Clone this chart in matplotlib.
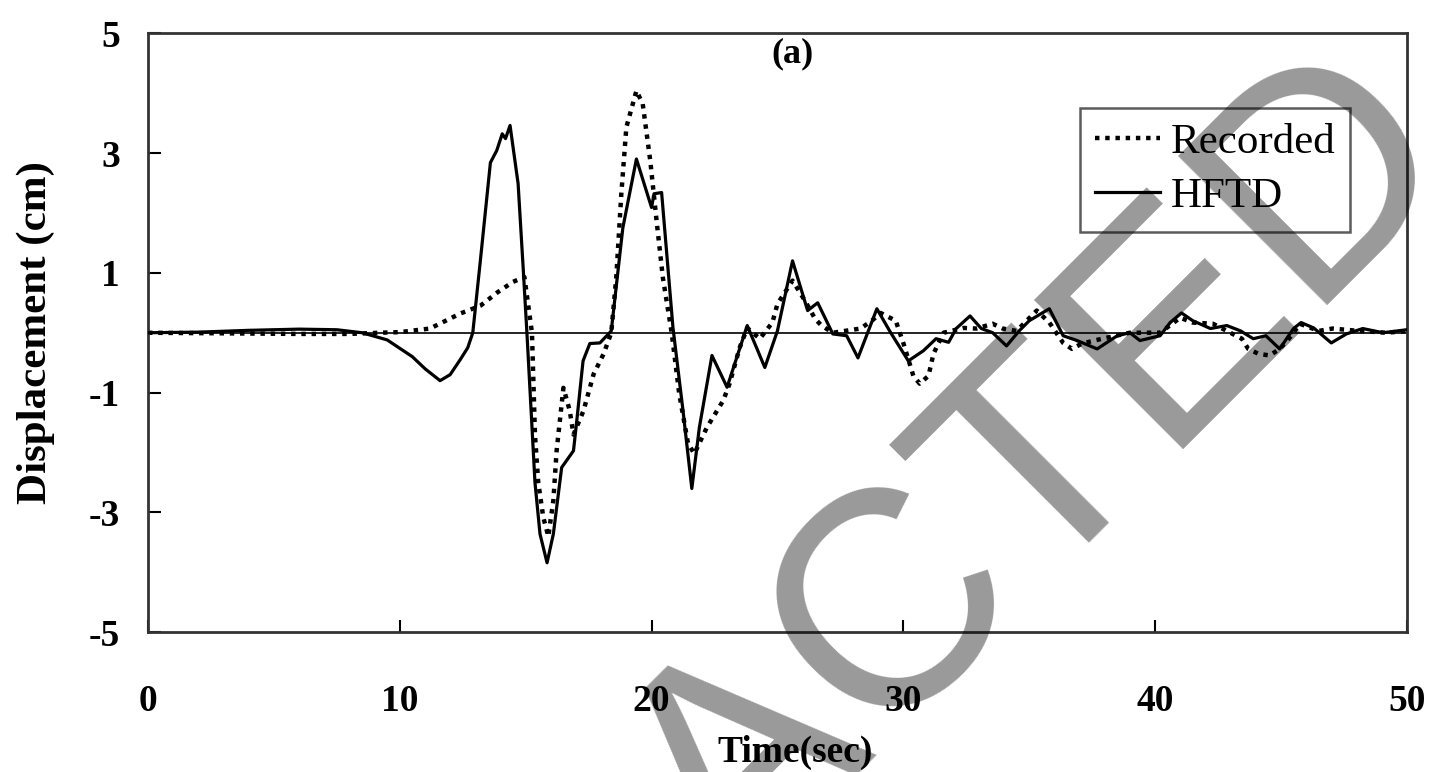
import numpy as np
import matplotlib
matplotlib.use("Agg")
import matplotlib.pyplot as plt

# HFTD (solid) time history
t_hftd = [0, 2, 4, 6, 7.5, 8.5, 9.5, 10.5, 11.0, 11.6, 12.0, 12.4, 12.7, 12.9, 13.2,
          13.6, 13.85, 14.07, 14.2, 14.38, 14.7, 14.9, 15.05, 15.37, 15.57, 15.85,
          16.1, 16.43, 16.9, 17.03, 17.28, 17.55, 17.95, 18.4, 18.86, 19.4, 20.0,
          20.1, 20.4, 20.85, 21.25, 21.6, 21.9, 22.4, 23.0, 23.8, 24.5, 25.0, 25.6,
          26.2, 26.6, 27.2, 27.75, 28.2, 28.95, 29.5, 30.2, 30.8, 31.3, 31.8, 32.1,
          32.65, 33.1, 33.55, 34.1, 34.6, 35.0, 35.8, 36.35, 36.9, 37.7, 38.5, 39.0,
          39.4, 40.2, 40.6, 41.05, 41.5, 42.2, 42.85, 43.4, 43.9, 44.4, 44.95, 45.5,
          45.8, 46.3, 47.0, 47.6, 48.25, 49.05, 50]
d_hftd = [0, 0.01, 0.04, 0.06, 0.05, 0.0, -0.12, -0.4, -0.6, -0.8, -0.7, -0.45, -0.25, 0.0, 1.2,
          2.84, 3.04, 3.32, 3.24, 3.46, 2.49, 1.09, 0.0, -2.5, -3.36, -3.84,
          -3.36, -2.25, -1.97, -1.47, -0.47, -0.18, -0.17, 0.03, 1.75, 2.9, 2.09,
          2.32, 2.34, 0.09, -1.3, -2.6, -1.58, -0.38, -0.91, 0.12, -0.58, 0.03, 1.2,
          0.37, 0.5, -0.02, -0.05, -0.42, 0.4, 0.0, -0.47, -0.3, -0.1, -0.16, 0.07,
          0.28, 0.07, 0.0, -0.22, 0.03, 0.2, 0.4, -0.05, -0.13, -0.27, -0.05, 0.0,
          -0.13, -0.05, 0.17, 0.33, 0.2, 0.07, 0.12, 0.03, -0.1, -0.05, -0.27, 0.07,
          0.17, 0.08, -0.17, -0.02, 0.07, 0.0, 0.05]

# Recorded (dotted) time history
t_rec = [0, 3, 6, 8, 9.2, 10, 11.2, 12.4, 13.2, 13.9, 14.5, 14.95, 15.25, 15.37, 15.5,
         15.7, 15.9, 16.1, 16.23, 16.5, 16.75, 16.9, 17.3, 17.7, 18.1, 18.4, 18.6,
         18.8, 19.0, 19.4, 19.65, 19.95, 20.2, 20.45, 20.8, 21.1, 21.45, 21.7, 22.2,
         22.85, 23.1, 23.5, 23.8, 24.3, 24.8, 25.0, 25.6, 26.1, 26.5, 26.75, 27.2,
         28.3, 28.75, 29.1, 29.7, 30.0, 30.4, 30.65, 31.0, 31.2, 31.6, 32.4, 32.9,
         33.55, 33.95, 34.5, 35.3, 35.8, 36.35, 36.7, 37.1, 37.9, 39.0, 40.2, 41.0,
         41.5, 42.3, 42.85, 43.45, 43.7, 44.1, 44.55, 44.95, 45.35, 45.75, 46.5,
         47.05, 48.1, 49.2, 50]
d_rec = [0, -0.01, -0.02, -0.02, 0.0, 0.01, 0.07, 0.32, 0.45, 0.68, 0.85, 0.93, 0.0, -1.7, -2.5,
         -3.08, -3.4, -2.8, -1.97, -0.92, -1.3, -1.7, -1.3, -0.69, -0.35, 0.0, 0.93,
         2.32, 3.43, 4.04, 3.82, 2.87, 1.87, 0.92, 0.0, -1.02, -1.85, -2.02, -1.58,
         -1.13, -0.85, -0.25, 0.08, -0.1, 0.17, 0.48, 0.87, 0.53, 0.23, 0.12, 0.0,
         0.07, 0.2, 0.33, 0.2, -0.17, -0.72, -0.85, -0.72, -0.35, 0.0, 0.08, 0.07,
         0.15, 0.07, 0.03, 0.37, 0.17, -0.17, -0.27, -0.18, -0.1, 0.0, 0.0, 0.25,
         0.17, 0.15, 0.03, -0.1, -0.27, -0.35, -0.38, -0.27, -0.08, 0.15, 0.03,
         0.07, 0.03, 0.0, 0.03]

x_ticks = [0, 10, 20, 30, 40, 50]
y_ticks = [-5, -3, -1, 1, 3, 5]

plt.rcParams['axes.unicode_minus'] = False
serif = ['Liberation Serif', 'DejaVu Serif']

fig = plt.figure(figsize=(14.37, 7.72), dpi=100)
ax = fig.add_axes([0.103, 0.181, 0.876, 0.776])

ax.axhline(0, color='black', linewidth=1.2, zorder=1)
ax.plot(t_rec, d_rec, linestyle=(0, (1, 1.3)), color='black', linewidth=3.2, label='Recorded', zorder=2)
ax.plot(t_hftd, d_hftd, linestyle='-', color='black', linewidth=2.3, label='HFTD', zorder=3)

ax.set_xlim(0, 50)
ax.set_ylim(-5, 5)
ax.set_xticks(x_ticks)
ax.set_yticks(y_ticks)
ax.tick_params(direction='in', length=9, width=1.5)
ax.tick_params(axis='x', pad=37)
ax.tick_params(axis='y', pad=20)
for lab in ax.get_xticklabels() + ax.get_yticklabels():
    lab.set_family(serif)
    lab.set_fontweight('bold')
    lab.set_fontsize(27)
for s in ax.spines.values():
    s.set_linewidth(2)
    s.set_color('#333333')

ax.set_xlabel('Time(sec)', family=serif, fontweight='bold', fontsize=27)
ax.xaxis.set_label_coords(0.514, -0.172)
ax.set_ylabel('Displacement (cm)', family=serif, fontweight='bold', fontsize=31)
ax.yaxis.set_label_coords(-0.074, 0.5)
ax.text(0.512, 0.965, '(a)', transform=ax.transAxes, ha='center', va='center',
        family=serif, fontweight='bold', fontsize=26)

leg = ax.legend(loc='upper right', bbox_to_anchor=(0.955, 0.875), prop={'family': serif, 'size': 31},
                frameon=True, fancybox=False, edgecolor='#333333', handlelength=1.5,
                handletextpad=0.25, borderpad=0.35, labelspacing=0.35, borderaxespad=0)
leg.get_frame().set_linewidth(1.8)

# grey redaction watermark drawn across the figure
fig.text(0.563, 0.11, 'REDACTED', rotation=45, rotation_mode='anchor', ha='center', va='center',
         family='Liberation Sans', fontsize=220, color='black', alpha=0.4, zorder=10)

fig.savefig('out.png', dpi=100)
